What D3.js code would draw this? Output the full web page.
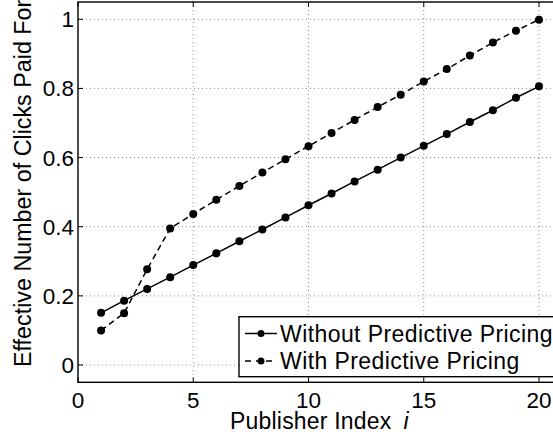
<!DOCTYPE html>
<html lang="en">
<head>
<meta charset="UTF-8">
<title>Effective clicks paid for</title>
<script src="https://d3js.org/d3.v7.min.js"></script>
<style>
    body { margin: 0; background: #fff; }
    svg { display: block; font-family: "Liberation Sans", Arial, sans-serif; }
</style>
</head>
<body>
<svg id="chart" width="553" height="439"></svg>
<script>
    // values
    const publisher = [1, 2, 3, 4, 5, 6, 7, 8, 9, 10, 11, 12, 13, 14, 15, 16, 17, 18, 19, 20];
    const withoutPredictive = [0.151, 0.186, 0.220, 0.254, 0.289, 0.323, 0.358, 0.392, 0.427, 0.462,
                               0.496, 0.531, 0.565, 0.600, 0.634, 0.668, 0.703, 0.737, 0.773, 0.806];
    const withPredictive = [0.100, 0.150, 0.277, 0.395, 0.437, 0.478, 0.518, 0.557, 0.595, 0.633,
                            0.671, 0.709, 0.746, 0.782, 0.820, 0.856, 0.895, 0.933, 0.967, 0.999];
    const xTicks = [0, 5, 10, 15, 20];
    const yTicks = [0, 0.2, 0.4, 0.6, 0.8, 1];
    const seriesNames = ["Without Predictive Pricing", "With Predictive Pricing"];

    const svg = d3.select("#chart");
    const mLeft = 78, mTop = 2, mBottom = 382.3;

    const x = d3.scaleLinear().domain([0, 22]).range([mLeft, mLeft + 22 * 23.05]);
    const y = d3.scaleLinear().domain([-0.05, 1.05]).range([mBottom, mTop]);

    // grid
    const grid = svg.append("g").attr("stroke", "#888").attr("stroke-width", 1)
        .attr("stroke-dasharray", "1,3");
    grid.selectAll(".gx").data(xTicks.filter(d => d > 0)).enter().append("line")
        .attr("x1", d => x(d)).attr("x2", d => x(d))
        .attr("y1", mTop).attr("y2", mBottom);
    grid.selectAll(".gy").data(yTicks).enter().append("line")
        .attr("x1", mLeft).attr("x2", x(22))
        .attr("y1", d => y(d)).attr("y2", d => y(d));

    // box
    svg.append("rect")
        .attr("x", mLeft).attr("y", mTop)
        .attr("width", x(22) - mLeft).attr("height", mBottom - mTop)
        .attr("fill", "none").attr("stroke", "#000").attr("stroke-width", 1.4);

    // inward ticks
    const ticks = svg.append("g").attr("stroke", "#000").attr("stroke-width", 1);
    xTicks.forEach(d => {
        ticks.append("line").attr("x1", x(d)).attr("x2", x(d)).attr("y1", mBottom).attr("y2", mBottom - 5);
        ticks.append("line").attr("x1", x(d)).attr("x2", x(d)).attr("y1", mTop).attr("y2", mTop + 5);
    });
    yTicks.forEach(d => {
        ticks.append("line").attr("x1", mLeft).attr("x2", mLeft + 5).attr("y1", y(d)).attr("y2", y(d));
    });

    // tick labels
    svg.append("g").selectAll("text").data(xTicks).enter().append("text")
        .attr("x", d => x(d)).attr("y", 408)
        .attr("text-anchor", "middle").attr("font-size", 22.5)
        .text(d => d);
    svg.append("g").selectAll("text").data(yTicks).enter().append("text")
        .attr("x", 74).attr("y", d => y(d) + 8)
        .attr("text-anchor", "end").attr("font-size", 22.5)
        .text(d => d);

    // axis labels
    const xl = svg.append("text").attr("x", 230).attr("y", 429)
        .attr("font-size", 23).attr("letter-spacing", 0.2);
    xl.append("tspan").text("Publisher Index");
    xl.append("tspan").attr("dx", 12).attr("font-style", "italic").text("i");

    svg.append("text")
        .attr("transform", "translate(31,367) rotate(-90)")
        .attr("font-size", 23.3)
        .text("Effective Number of Clicks Paid For");

    // series
    const line = d3.line().x(d => x(d[0])).y(d => y(d[1]));
    const series = [
        { name: seriesNames[0], values: withoutPredictive, dash: null },
        { name: seriesNames[1], values: withPredictive, dash: "6,4" }
    ];
    series.forEach(s => {
        const pts = publisher.map((p, i) => [p, s.values[i]]);
        svg.append("path").datum(pts)
            .attr("d", line)
            .attr("fill", "none").attr("stroke", "#000").attr("stroke-width", 1.5)
            .attr("stroke-dasharray", s.dash);
        svg.append("g").selectAll("circle").data(pts).enter().append("circle")
            .attr("cx", d => x(d[0])).attr("cy", d => y(d[1])).attr("r", 4)
            .attr("fill", "#000");
    });

    // legend
    const lg = svg.append("g");
    lg.append("rect").attr("x", 239).attr("y", 316.7).attr("width", 340).attr("height", 60)
        .attr("fill", "#fff").attr("stroke", "#000").attr("stroke-width", 1.4);
    series.forEach((s, i) => {
        const ly = 333.5 + i * 27.5;
        lg.append("line").attr("x1", 245).attr("x2", 277).attr("y1", ly).attr("y2", ly)
            .attr("stroke", "#000").attr("stroke-width", 1.5)
            .attr("stroke-dasharray", s.dash ? "6,5,6,0,0,4,6" : null);
        lg.append("circle").attr("cx", 261).attr("cy", ly).attr("r", 3.5).attr("fill", "#000");
        lg.append("text").attr("x", 280).attr("y", ly + 8)
            .attr("font-size", 23).attr("letter-spacing", 0.42).text(s.name);
    });
</script>
</body>
</html>
